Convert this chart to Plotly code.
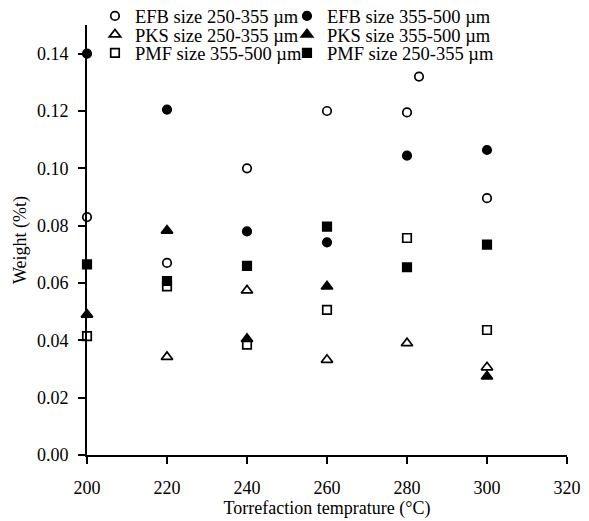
import plotly.graph_objects as go

# Torrefaction temperatures (°C) and weights (%t)
efb_250_x = [200, 220, 240, 260, 280, 283, 300]
efb_250_y = [0.083, 0.067, 0.100, 0.120, 0.1195, 0.132, 0.0896]

efb_355_x = [200, 220, 240, 260, 280, 300]
efb_355_y = [0.140, 0.1205, 0.078, 0.0742, 0.1044, 0.1064]

pks_250_x = [220, 240, 260, 280, 300]
pks_250_y = [0.0342, 0.0574, 0.0332, 0.039, 0.0306]

pks_355_x = [200, 220, 240, 260, 300]
pks_355_y = [0.049, 0.0783, 0.0405, 0.0588, 0.0274]

pmf_355_x = [200, 220, 240, 260, 280, 300]
pmf_355_y = [0.0415, 0.0588, 0.0385, 0.0506, 0.0757, 0.0436]

pmf_250_x = [200, 220, 240, 260, 280, 300]
pmf_250_y = [0.0665, 0.0607, 0.066, 0.0797, 0.0655, 0.0734]

x_ticks = [200, 220, 240, 260, 280, 300, 320]
y_ticks = [0.00, 0.02, 0.04, 0.06, 0.08, 0.10, 0.12, 0.14]

FONT = "Liberation Serif"

series = [
    ("EFB size 250-355 µm", efb_250_x, efb_250_y, "circle-open"),
    ("EFB size 355-500 µm", efb_355_x, efb_355_y, "circle"),
    ("PKS size 250-355 µm", pks_250_x, pks_250_y, "triangle-up-open"),
    ("PKS size 355-500 µm", pks_355_x, pks_355_y, "triangle-up"),
    ("PMF size 355-500 µm", pmf_355_x, pmf_355_y, "square-open"),
    ("PMF size 250-355 µm", pmf_250_x, pmf_250_y, "square"),
]

legend_ids = ["legend", "legend2", "legend3", "legend4", "legend5", "legend6"]
col_x = [0.0166, 0.4166]
row_y = [1.020, 0.977, 0.934]

fig = go.Figure()
layout_legends = {}
for i, (name, xs, ys, sym) in enumerate(series):
    size = 10 if "triangle" in sym else 8.5
    fig.add_trace(go.Scatter(
        x=xs, y=ys, mode="markers", name=name, cliponaxis=False,
        legend=legend_ids[i],
        marker=dict(symbol=sym, size=size, color="black",
                    line=dict(color="black", width=1.7)),
    ))
    layout_legends[legend_ids[i]] = dict(
        orientation="h", x=col_x[i % 2], y=row_y[i // 2],
        xanchor="left", yanchor="middle",
        font=dict(family=FONT, size=18.5, color="black"),
        bgcolor="rgba(0,0,0,0)", itemwidth=30,
    )

fig.update_layout(
    width=581, height=513,
    margin=dict(l=79, r=22, t=17, b=66, autoexpand=False),
    paper_bgcolor="white", plot_bgcolor="white",
    font=dict(family=FONT, size=17, color="black"),
    showlegend=True,
    **layout_legends,
    xaxis=dict(
        range=[200, 320], tickvals=x_ticks, ticktext=[str(v) for v in x_ticks],
        showline=True, linecolor="black", linewidth=2,
        ticks="outside", ticklen=7, tickwidth=2, tickcolor="black",
        showgrid=False, zeroline=False, automargin=False,
        ticklabelstandoff=8,
        title=dict(text="Torrefaction temprature (°C)", font=dict(size=18), standoff=1),
        tickfont=dict(size=18),
    ),
    yaxis=dict(
        range=[0, 0.15], tickvals=y_ticks, ticktext=[f"{v:.2f}" for v in y_ticks],
        showline=True, linecolor="black", linewidth=2,
        ticks="outside", ticklen=7, tickwidth=2, tickcolor="black",
        showgrid=False, zeroline=False, automargin=False,
        ticklabelstandoff=6,
        title=dict(text="Weight (%t)", font=dict(size=18), standoff=6),
        tickfont=dict(size=18),
    ),
)

fig.write_html("out.html")
